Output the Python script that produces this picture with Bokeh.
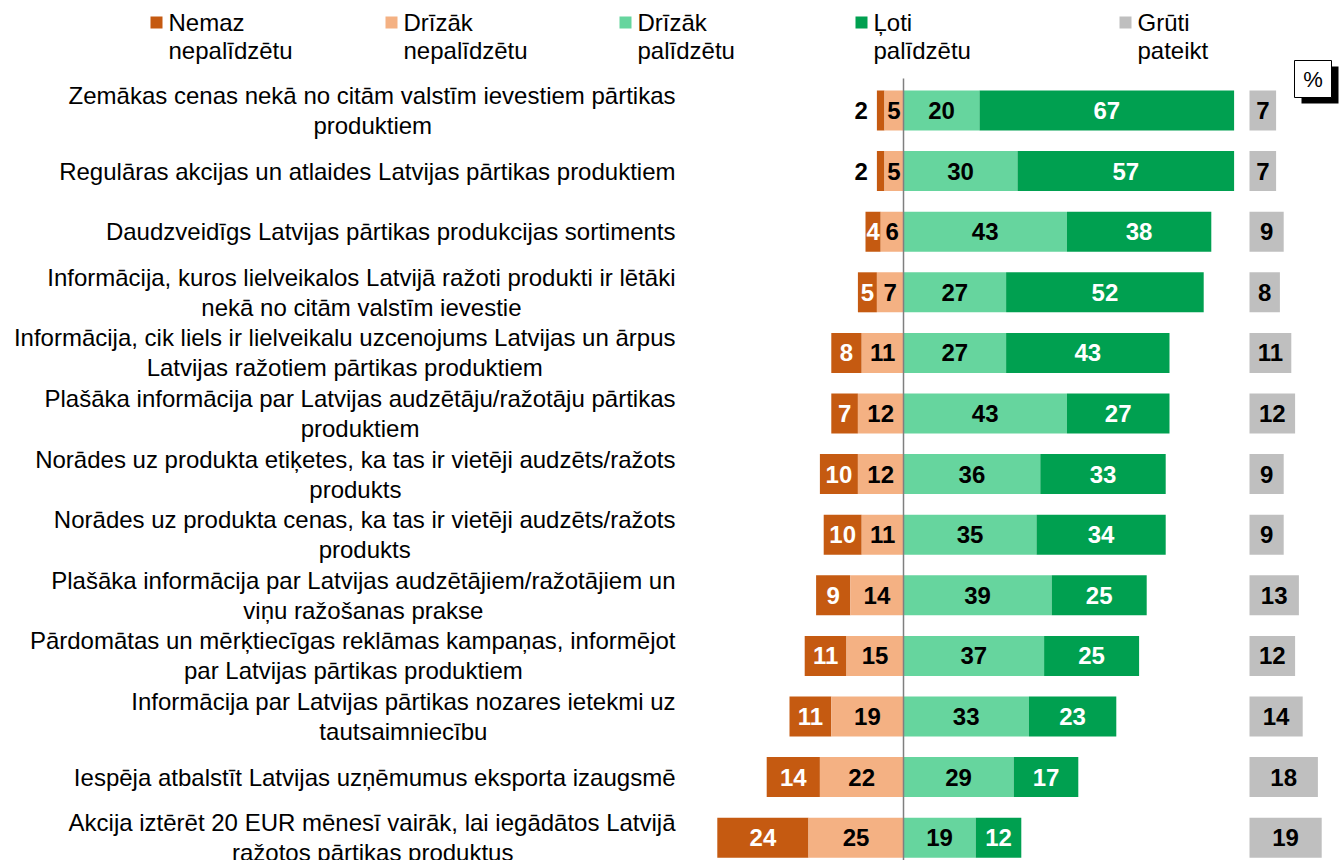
import unicodedata
from bokeh.plotting import figure
from bokeh.models import Range1d, ColumnDataSource
from bokeh.embed import file_html
from bokeh.resources import INLINE
from bokeh.core.properties import value

# ---------------- data ----------------
categories = [
    "Zemākas cenas nekā no citām valstīm ievestiem pārtikas\nproduktiem",
    "Regulāras akcijas un atlaides Latvijas pārtikas produktiem",
    "Daudzveidīgs Latvijas pārtikas produkcijas sortiments",
    "Informācija, kuros lielveikalos Latvijā ražoti produkti ir lētāki\nnekā no citām valstīm ievestie",
    "Informācija, cik liels ir lielveikalu uzcenojums Latvijas un ārpus\nLatvijas ražotiem pārtikas produktiem",
    "Plašāka informācija par Latvijas audzētāju/ražotāju pārtikas\nproduktiem",
    "Norādes uz produkta etiķetes, ka tas ir vietēji audzēts/ražots\nprodukts",
    "Norādes uz produkta cenas, ka tas ir vietēji audzēts/ražots\nprodukts",
    "Plašāka informācija par Latvijas audzētājiem/ražotājiem un\nviņu ražošanas prakse",
    "Pārdomātas un mērķtiecīgas reklāmas kampaņas, informējot\npar Latvijas pārtikas produktiem",
    "Informācija par Latvijas pārtikas nozares ietekmi uz\ntautsaimniecību",
    "Iespēja atbalstīt Latvijas uzņēmumus eksporta izaugsmē",
    "Akcija iztērēt 20 EUR mēnesī vairāk, lai iegādātos Latvijā\nražotos pārtikas produktus",
]
series_names = ["Nemaz\nnepalīdzētu", "Drīzāk\nnepalīdzētu", "Drīzāk\npalīdzētu",
                "Ļoti\npalīdzētu", "Grūti\npateikt"]
nemaz = [2, 2, 4, 5, 8, 7, 10, 10, 9, 11, 11, 14, 24]
drizak_nep = [5, 5, 6, 7, 11, 12, 12, 11, 14, 15, 19, 22, 25]
drizak_pal = [20, 30, 43, 27, 27, 43, 36, 35, 39, 37, 33, 29, 19]
loti = [67, 57, 38, 52, 43, 27, 33, 34, 25, 25, 23, 17, 12]
gruti = [7, 7, 9, 8, 11, 12, 9, 9, 13, 12, 14, 18, 19]

# ---------------- styles ----------------
C_NEMAZ = "#C55A11"
C_DNEP = "#F4B183"
C_DPAL = "#66D59E"
C_LOTI = "#00A050"
C_GRUTI = "#BFBFBF"
colors = [C_NEMAZ, C_DNEP, C_DPAL, C_LOTI, C_GRUTI]
text_colors = ["white", "black", "black", "white", "black"]
FONT = value("Liberation Sans")

W, H = 1340, 860
ORIGIN = 0        # picture px of the figure's left/top edge
KX = 3.8          # px per percentage point
CENTER_PX = 903   # picture x of the zero line
ROW0_PX = 110     # picture y of the first row
ROW_STEP = 60.6   # px between rows

x0 = -(CENTER_PX - ORIGIN) / KX
x1 = x0 + W / KX
y_top = (ROW0_PX - ORIGIN) / ROW_STEP
y_bot = y_top - H / ROW_STEP


def px(page_x):
    return (page_x - CENTER_PX) / KX


def py(page_y):
    return -(page_y - ROW0_PX) / ROW_STEP


GRUTI_START = px(1249)
LABEL_RIGHT = px(675)
BAR_H = 40 / ROW_STEP

p = figure(width=W, height=H, x_range=Range1d(x0, x1), y_range=Range1d(y_bot, y_top),
           output_backend="svg", toolbar_location=None, min_border=0,
           outline_line_color=None)
p.axis.visible = False
p.grid.visible = False
p.background_fill_color = "white"
p.border_fill_color = "white"

n = len(categories)
ys = [-i for i in range(n)]

# ---- bars ----
neg_inner_left = [-v for v in drizak_nep]
neg_outer_left = [-(a + b) for a, b in zip(drizak_nep, nemaz)]
pos_mid = list(drizak_pal)
pos_outer = [a + b for a, b in zip(drizak_pal, loti)]

segments = [
    (neg_outer_left, neg_inner_left, nemaz, 0),
    (neg_inner_left, [0] * n, drizak_nep, 1),
    ([0] * n, pos_mid, drizak_pal, 2),
    (pos_mid, pos_outer, loti, 3),
    ([GRUTI_START] * n, [GRUTI_START + v for v in gruti], gruti, 4),
]

for left, right, vals, k in segments:
    p.hbar(y=ys, left=left, right=right, height=BAR_H, fill_color=colors[k], line_color=None)

# ---- value labels ----
lab_x, lab_y, lab_t, lab_c, lab_a = [], [], [], [], []
for left, right, vals, k in segments:
    for i in range(n):
        v = vals[i]
        if v < 3:
            lab_x.append(left[i] - 9 / KX)
            lab_a.append("right")
            lab_c.append("black")
        else:
            lab_x.append((left[i] + right[i]) / 2)
            lab_a.append("center")
            lab_c.append(text_colors[k])
        lab_y.append(ys[i])
        lab_t.append(str(v))
src = ColumnDataSource(dict(x=lab_x, y=lab_y, t=lab_t, c=lab_c, a=lab_a))
p.text(x="x", y="y", text="t", text_color="c", text_align="a", text_baseline="middle",
       text_font=FONT, text_font_size="24px", text_font_style="bold", source=src)

# ---- zero line ----
p.segment(x0=[0], x1=[0], y0=[py(78)], y1=[y_bot], line_color="#7F7F7F", line_width=1.5)

# ---- category labels ----
AW = dict(zip("abcdefghijklmnopqrstuvwxyz",
              [556, 556, 500, 556, 556, 278, 556, 556, 222, 222, 500, 222, 833, 556, 556, 556,
               556, 333, 500, 278, 556, 500, 722, 500, 500, 500]))
AW.update(dict(zip("ABCDEFGHIJKLMNOPQRSTUVWXYZ",
                   [667, 667, 722, 722, 667, 611, 778, 722, 278, 500, 667, 556, 833, 722, 778,
                    667, 778, 722, 667, 611, 722, 667, 944, 667, 667, 611])))
AW.update({" ": 278, ",": 278, ".": 278, "/": 278, "-": 333})
for d in "0123456789":
    AW[d] = 556


def text_w(s, size=24):
    tot = 0
    for ch in s:
        base = unicodedata.normalize("NFD", ch)[0]
        tot += AW.get(base, 556)
    return tot * size / 1000


cx, cy, ct, ca = [], [], [], []
for i, cat in enumerate(categories):
    lines = cat.split("\n")
    if len(lines) == 1:
        cx.append(LABEL_RIGHT); cy.append(ys[i]); ct.append(lines[0]); ca.append("right")
    else:
        w1 = text_w(lines[0])
        cx.append(LABEL_RIGHT); cy.append(ys[i] + 15 / ROW_STEP); ct.append(lines[0]); ca.append("right")
        cx.append(LABEL_RIGHT - w1 / 2 / KX); cy.append(ys[i] - 15 / ROW_STEP); ct.append(lines[1]); ca.append("center")
p.text(x="x", y="y", text="t", text_align="a", text_baseline="middle", text_color="black",
       text_font=FONT, text_font_size="24px",
       source=ColumnDataSource(dict(x=cx, y=cy, t=ct, a=ca)))

# ---- legend ----
leg_text_px = [168, 403, 637, 873, 1137]
lx = [px(t - 12) for t in leg_text_px]
p.scatter(x=lx, y=[py(22)] * 5, marker="square", size=12, fill_color=colors, line_color=None)
tx, ty, tt = [], [], []
for k, name in enumerate(series_names):
    a, b = name.split("\n")
    tx += [px(leg_text_px[k])] * 2
    ty += [py(22), py(50)]
    tt += [a, b]
p.text(x=tx, y=ty, text=tt, text_align="left", text_baseline="middle", text_color="black",
       text_font=FONT, text_font_size="24px")

# ---- % box ----
p.quad(left=[px(1301)], right=[px(1338)], top=[py(66)], bottom=[py(103)],
       fill_color="black", line_color=None)
p.quad(left=[px(1294)], right=[px(1331)], top=[py(60)], bottom=[py(97)],
       fill_color="white", line_color="black", line_width=1)
p.text(x=[px(1312.5)], y=[py(79)], text=["%"], text_align="center", text_baseline="middle",
       text_font=FONT, text_font_size="22px", text_color="black")

open("out.html", "w").write(file_html(p, INLINE))
